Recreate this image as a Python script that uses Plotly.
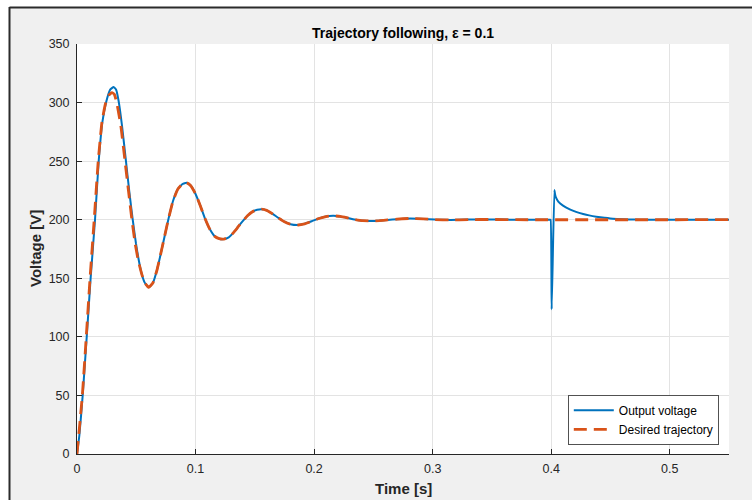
import plotly.graph_objects as go

# Output voltage of the converter (s, V)
t_out = [0, 0.002, 0.0048, 0.0082, 0.0115, 0.0152, 0.0183, 0.0215, 0.0245, 0.028,
         0.0309, 0.033, 0.035, 0.038, 0.0413, 0.044, 0.047, 0.0497, 0.052, 0.0545,
         0.057, 0.0604, 0.064, 0.0672, 0.070, 0.0735, 0.077, 0.081, 0.085, 0.089,
         0.0925, 0.096, 0.100, 0.104, 0.108, 0.112, 0.116, 0.120, 0.124, 0.128,
         0.132, 0.136, 0.140, 0.144, 0.148, 0.152, 0.1557, 0.160, 0.165, 0.170,
         0.175, 0.180, 0.1866, 0.192, 0.198, 0.204, 0.210, 0.216, 0.222, 0.228,
         0.234, 0.241, 0.248, 0.255, 0.262, 0.270, 0.281, 0.292, 0.302, 0.315,
         0.330, 0.350, 0.370, 0.390, 0.399, 0.3995, 0.4004, 0.4027, 0.4033, 0.404,
         0.406, 0.410, 0.4157, 0.421, 0.427, 0.432, 0.438, 0.445, 0.452, 0.460,
         0.470, 0.480, 0.550]
v_out = [0, 16, 50, 100, 150, 200, 250, 284, 300, 311,
         313.3, 311, 302, 280, 250, 225, 200, 180, 166, 154,
         146.5, 142.3, 146, 156, 168, 184, 200, 216, 226, 230.5,
         231.5, 229, 222, 212, 201, 192, 186, 183.8, 183.5, 185,
         189, 194, 199, 203.5, 206.8, 208.5, 209, 208, 205, 201.5,
         198.3, 196.2, 195.5, 196.5, 198.7, 201, 202.7, 203.3, 202.8, 201.6,
         200.2, 199.2, 198.9, 199.2, 199.8, 200.5, 201.1, 200.7, 200.1, 199.8,
         200.1, 200.2, 200, 200, 200, 200, 123.5, 225.4, 221.5, 219,
         215.4, 212, 208.9, 206.7, 204.9, 203.7, 202.6, 201.7, 200.9, 200.4,
         200.1, 200, 200]

# Desired reference trajectory (s, V)
t_ref = [0, 0.0045, 0.0078, 0.011, 0.0145, 0.0179, 0.021, 0.024, 0.027, 0.0295,
         0.0315, 0.0335, 0.037, 0.0405, 0.0435, 0.0463, 0.049, 0.0515, 0.0545,
         0.057, 0.0604, 0.064, 0.0672, 0.070, 0.0735, 0.077, 0.081, 0.085, 0.089,
         0.0925, 0.096, 0.100, 0.104, 0.108, 0.112, 0.116, 0.120, 0.124, 0.128,
         0.132, 0.136, 0.140, 0.144, 0.148, 0.152, 0.1557, 0.160, 0.165, 0.170,
         0.175, 0.180, 0.1866, 0.192, 0.198, 0.204, 0.210, 0.216, 0.222, 0.228,
         0.234, 0.241, 0.248, 0.255, 0.262, 0.270, 0.281, 0.292, 0.302, 0.315,
         0.330, 0.350, 0.370, 0.550]
v_ref = [0, 50, 100, 150, 200, 250, 283, 299, 306.5, 308.5,
         307, 300, 280, 250, 224, 200, 180, 166, 154,
         146.5, 142.3, 146, 156, 168, 184, 200, 216, 226, 230.5,
         231.5, 229, 222, 212, 201, 192, 186, 183.8, 183.5, 185,
         189, 194, 199, 203.5, 206.8, 208.5, 209, 208, 205, 201.5,
         198.3, 196.2, 195.5, 196.5, 198.7, 201, 202.7, 203.3, 202.8, 201.6,
         200.2, 199.2, 198.9, 199.2, 199.8, 200.5, 201.1, 200.7, 200.1, 199.8,
         200.1, 200.2, 200, 200]

x_ticks = [0, 0.1, 0.2, 0.3, 0.4, 0.5]
x_tick_text = ["0", "0.1", "0.2", "0.3", "0.4", "0.5"]
y_ticks = [0, 50, 100, 150, 200, 250, 300, 350]

FONT = "Liberation Sans, Arial, Helvetica, sans-serif"
AX = "#262626"
W, H = 752, 500
L, R, T, B = 77, 23, 44, 46
PW, PH = W - L - R, H - T - B


def px_to_paper_x(px):
    return (px - L) / PW


def py_to_paper_y(py):
    return (H - B - py) / PH


fig = go.Figure()
fig.add_trace(go.Scatter(
    x=t_out, y=v_out, mode="lines", name="Output voltage",
    line=dict(color="#0072BD", width=2, shape="spline", smoothing=0.4),
))
fig.add_trace(go.Scatter(
    x=t_ref, y=v_ref, mode="lines", name="Desired trajectory",
    line=dict(color="#D95319", width=2.8, dash="13px,7px", shape="spline", smoothing=0.4),
))

axis_common = dict(
    showline=True, linecolor=AX, linewidth=1, mirror=False,
    ticks="inside", ticklen=5, tickcolor=AX, tickwidth=1,
    showgrid=True, gridcolor="#e3e3e3", gridwidth=1,
    zeroline=False, tickfont=dict(family=FONT, size=12.5, color=AX),
)
fig.update_xaxes(range=[0, 0.55], tickvals=x_ticks, ticktext=x_tick_text,
                 ticklabelstandoff=3, **axis_common)
fig.update_yaxes(range=[0, 350], tickvals=y_ticks, ticklabelstandoff=4, **axis_common)

shapes = [
    # window strips outside the figure frame
    dict(type="rect", xref="paper", yref="paper", x0=px_to_paper_x(0), x1=px_to_paper_x(9),
         y0=py_to_paper_y(H), y1=py_to_paper_y(0), fillcolor="white", line_width=0, layer="above"),
    dict(type="rect", xref="paper", yref="paper", x0=px_to_paper_x(0), x1=px_to_paper_x(W),
         y0=py_to_paper_y(7), y1=py_to_paper_y(0), fillcolor="white", line_width=0, layer="above"),
    # frame edges
    dict(type="line", xref="paper", yref="paper", x0=px_to_paper_x(9.5), x1=px_to_paper_x(9.5),
         y0=py_to_paper_y(7), y1=py_to_paper_y(H), line=dict(color="#2b2b2b", width=2), layer="above"),
    dict(type="line", xref="paper", yref="paper", x0=px_to_paper_x(9.5), x1=px_to_paper_x(W),
         y0=py_to_paper_y(7.5), y1=py_to_paper_y(7.5), line=dict(color="#2b2b2b", width=2), layer="above"),
]

annotations = [
    dict(text="<b>Time [s]</b>", xref="paper", yref="paper",
         x=0.5, y=py_to_paper_y(488), xanchor="center", yanchor="middle",
         showarrow=False, font=dict(family=FONT, size=15, color=AX)),
    dict(text="<b>Voltage [V]</b>", xref="paper", yref="paper", textangle=-90,
         x=px_to_paper_x(35), y=0.5, xanchor="center", yanchor="middle",
         showarrow=False, font=dict(family=FONT, size=15, color=AX)),
    dict(text="<b>Trajectory following, ε = 0.1</b>", xref="paper", yref="paper",
         x=0.5, y=py_to_paper_y(33), xanchor="center", yanchor="middle",
         showarrow=False, font=dict(family=FONT, size=14, color="black")),
]

fig.update_layout(
    width=W, height=H,
    margin=dict(l=L, r=R, t=T, b=B, pad=0),
    paper_bgcolor="#f0f0f0", plot_bgcolor="white",
    legend=dict(x=px_to_paper_x(719), y=py_to_paper_y(445), xanchor="right", yanchor="bottom",
                bgcolor="white", bordercolor=AX, borderwidth=0.8,
                font=dict(family=FONT, size=12, color="black"),
                itemwidth=40, tracegroupgap=0),
    shapes=shapes, annotations=annotations,
    showlegend=True,
)

fig.write_html("out.html")
